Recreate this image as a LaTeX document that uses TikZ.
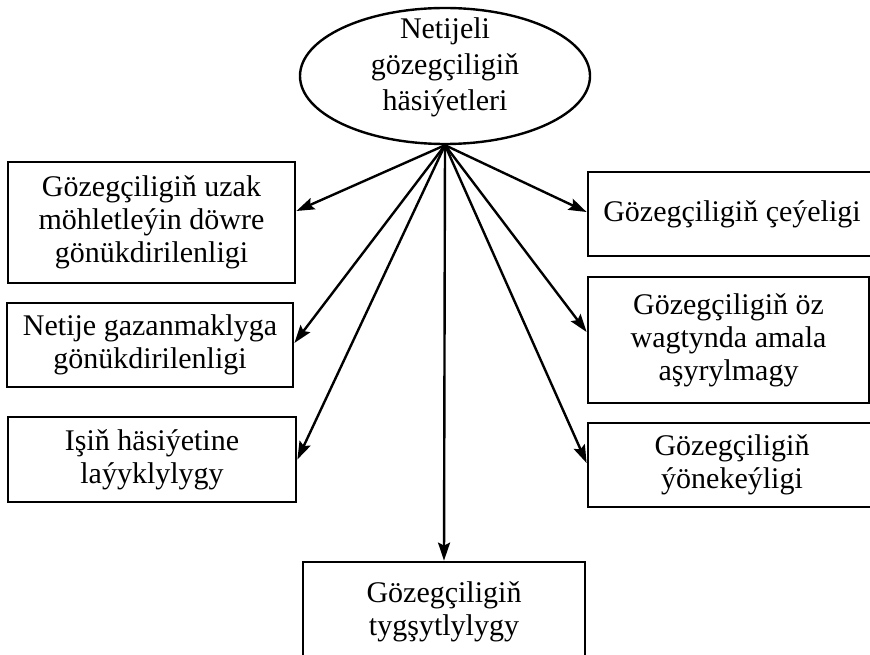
\documentclass[tikz,border=0pt]{standalone}
\usepackage{fontspec}
\setmainfont{Liberation Serif}
\usetikzlibrary{arrows.meta,shapes.geometric}
\tikzset{
  box/.style={draw, line width=2.8pt, rectangle, inner sep=0pt, align=center,
    font=\fontsize{30}{33}\selectfont},
  oval/.style={draw, line width=2.4pt, ellipse, inner sep=0pt,
    minimum width=290pt, minimum height=136pt,
    font=\fontsize{30}{36}\selectfont},
  link/.style={line width=2.4pt, -{Stealth[length=18pt,width=12pt,inset=3pt]}}
}
\begin{document}
\begin{tikzpicture}[x=1pt,y=-1pt]
\useasboundingbox (0,0) rectangle (870,655);
\clip (0,0) rectangle (870,655);
\fill[white] (0,0) rectangle (870,655);
\node[oval] (top) at (445,76) {\raisebox{2pt}[0pt][0pt]{\begin{tabular}{@{}c@{}}Netijeli\\gözegçiligiň\\häsiýetleri\end{tabular}}};
\node[box, minimum width=287pt, minimum height=121pt] (b1) at (151.5,222.5) {Gözegçiligiň uzak\\möhletleýin döwre\\gönükdirilenligi};
\node[box, minimum width=286pt, minimum height=84pt] (b2) at (150,345) {Netije gazanmaklyga\\gönükdirilenligi};
\node[box, minimum width=288pt, minimum height=85pt] (b3) at (152,459.5) {Işiň häsiýetine\\laýyklylygy};
\node[box, minimum width=288pt, minimum height=84pt] (r1) at (732,214) {Gözegçiligiň çeýeligi};
\node[box, minimum width=281pt, minimum height=126pt] (r2) at (728.5,340) {Gözegçiligiň öz\\wagtynda amala\\aşyrylmagy};
\node[box, minimum width=288pt, minimum height=84pt] (r3) at (732,465) {Gözegçiligiň\\ýönekeýligi};
\node[box, minimum width=282pt, minimum height=100pt] (bot) at (444,612) {Gözegçiligiň\\tygşytlylygy};
\draw[link] (top.south) -- ([yshift=11.5pt]b1.east);
\draw[link] (top.south) -- ([yshift=2pt]b2.east);
\draw[link] (top.south) -- (b3.east);
\draw[link] (top.south) -- ([yshift=2pt]r1.west);
\draw[link] (top.south) -- ([yshift=8pt]r2.west);
\draw[link] (top.south) -- ([yshift=2pt]r3.west);
\draw[link] (top.south) -- (bot.north);
\end{tikzpicture}
\end{document}
